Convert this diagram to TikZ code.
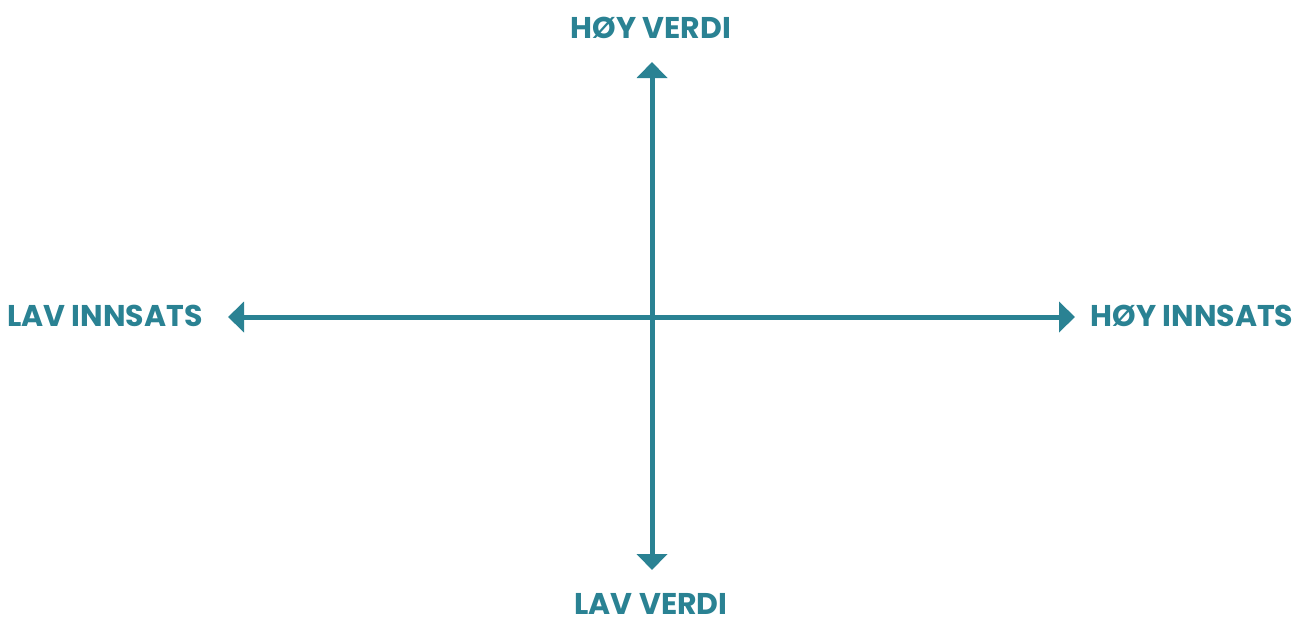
\documentclass[tikz,border=0pt]{standalone}
\usepackage{fontspec}
\setmainfont{Poppins}
\usetikzlibrary{arrows.meta}
\definecolor{teal1}{RGB}{42,130,147}
\begin{document}
\begin{tikzpicture}[x=1pt,y=-1pt,
  axis/.style={draw=teal1,line width=5pt,{Triangle[width=30pt,length=16pt]}-{Triangle[width=30pt,length=16pt]}},
  lbl/.style={text=teal1,font=\fontsize{30}{30}\selectfont\bfseries,inner sep=0pt,anchor=base}]
\useasboundingbox (0,0) rectangle (1306,616);
\coordinate (T) at (652,62);
\coordinate (B) at (652,570);
\coordinate (L) at (228,317);
\coordinate (R) at (1075,317);
\draw[axis] (T) -- (B);
\draw[axis] (L) -- (R);
\node[lbl] (hv) at (651,38) {HØY VERDI};
\node[lbl] (lv) at (651,614) {LAV VERDI};
\node[lbl] (li) at (105,326) {LAV INNSATS};
\node[lbl] (hi) at (1192,326) {HØY INNSATS};
\end{tikzpicture}
\end{document}
